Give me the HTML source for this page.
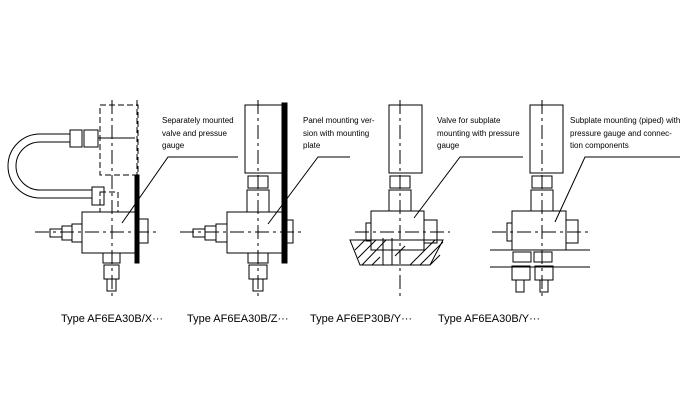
<!DOCTYPE html>
<html><head><meta charset="utf-8"><style>body{margin:0;background:#fff}svg{display:block}</style></head><body>
<svg width="700" height="400" viewBox="0 0 700 400" xmlns="http://www.w3.org/2000/svg" font-family="Liberation Sans, sans-serif">
<g fill="none" stroke="#000" stroke-width="1">
<!-- Drawing 1 -->
<rect x="100" y="105" width="38" height="70" stroke-dasharray="6,3"/>
<line x1="137" y1="100" x2="137" y2="175" stroke-dasharray="6,3"/>
<rect x="135" y="175" width="4" height="88" fill="#000"/>
<rect x="82" y="212" width="53" height="41" fill="#fff"/>
<rect x="136" y="219" width="12" height="24"/>
<line x1="35" y1="232" x2="156" y2="232" stroke-dasharray="14,4,3,4"/>
<line x1="112" y1="100" x2="112" y2="300" stroke-dasharray="14,4,3,4"/>
<rect x="72" y="224" width="10" height="18"/><rect x="62" y="226" width="10" height="14"/><rect x="50" y="229" width="12" height="8"/>
<rect x="103" y="253" width="17" height="10"/><rect x="104" y="265" width="15" height="14"/><rect x="107" y="279" width="9" height="12"/>
<rect x="100" y="192" width="18" height="20" stroke-dasharray="6,3"/>
<path d="M70 134 H40 A22 22 0 0 0 40 198 H92 M70 142 H40 A14 14 0 0 0 40 190 H92"/>
<rect x="70" y="130" width="12" height="17"/><rect x="84" y="130" width="14" height="17"/>
<line x1="98" y1="138" x2="135" y2="138"/>
<rect x="92" y="187" width="12" height="18"/>
<path d="M122 223 L168 157 H238"/>
<!-- Drawing 2 -->
<rect x="245" y="105" width="37" height="68"/>
<rect x="282" y="103" width="5" height="160" fill="#000"/>
<rect x="248" y="176" width="20" height="12"/><rect x="247" y="190" width="22" height="22"/>
<rect x="227" y="212" width="55" height="41" fill="#fff"/>
<rect x="282" y="220" width="11" height="23"/>
<line x1="180" y1="232" x2="305" y2="232" stroke-dasharray="14,4,3,4"/>
<line x1="258" y1="100" x2="258" y2="300" stroke-dasharray="14,4,3,4"/>
<rect x="216" y="224" width="11" height="18"/><rect x="205" y="226" width="11" height="14"/><rect x="193" y="229" width="12" height="8"/>
<rect x="248" y="253" width="20" height="10"/><rect x="249" y="265" width="18" height="14"/><rect x="253" y="279" width="10" height="12"/>
<path d="M268 224 L318 157 H350"/>
<!-- Drawing 3 -->
<rect x="389" y="105" width="33" height="68"/>
<rect x="390" y="176" width="20" height="12"/><rect x="389" y="190" width="22" height="22"/>
<rect x="371" y="211" width="53" height="39" fill="#fff"/>
<rect x="424" y="220" width="13" height="23"/><rect x="366" y="223" width="5" height="18"/>
<line x1="355" y1="232" x2="450" y2="232" stroke-dasharray="14,4,3,4"/>
<line x1="400" y1="100" x2="400" y2="300" stroke-dasharray="14,4,3,4"/>
<path d="M350 240 H443 L430 265 H360 Z"/>
<path d="M355 250 L365 240 M358 258 L376 240 M362 265 L386 240 M372 265 L380 257 M410 265 L435 240 M420 265 L443 242 M430 265 L440 255 M395 256 L405 246" />
<line x1="383" y1="238" x2="383" y2="265"/><line x1="392" y1="238" x2="392" y2="265"/>
<path d="M414 218 L460 157 H523"/>
<!-- Drawing 4 -->
<rect x="530" y="105" width="33" height="68"/>
<rect x="532" y="176" width="20" height="12"/><rect x="531" y="190" width="22" height="22"/>
<rect x="512" y="211" width="54" height="39" fill="#fff"/>
<rect x="566" y="220" width="12" height="23"/><rect x="507" y="223" width="5" height="18"/>
<line x1="492" y1="232" x2="590" y2="232" stroke-dasharray="14,4,3,4"/>
<line x1="542" y1="100" x2="542" y2="300" stroke-dasharray="14,4,3,4"/>
<line x1="490" y1="250" x2="590" y2="250"/><line x1="490" y1="267" x2="590" y2="267"/>
<rect x="513" y="252" width="18" height="10"/><rect x="534" y="252" width="18" height="10"/>
<rect x="512" y="266" width="18" height="14"/><rect x="535" y="266" width="18" height="14"/>
<rect x="516" y="280" width="8" height="12"/><rect x="540" y="280" width="8" height="12"/>
<path d="M555 222 L585 157 H680"/>
</g>
<g font-size="8" fill="#000">
<text x="162" y="123">Separately mounted</text><text x="162" y="136">valve and pressue</text><text x="162" y="148">gauge</text>
<text x="303" y="123">Panel mounting ver-</text><text x="303" y="136">sion with mounting</text><text x="303" y="148">plate</text>
<text x="437" y="123">Valve for subplate</text><text x="437" y="136">mounting with pressure</text><text x="437" y="148">gauge</text>
<text x="570" y="123">Subplate mounting (piped) with</text><text x="570" y="136">pressure gauge and connec-</text><text x="570" y="148">tion components</text>
</g>
<g font-size="11" fill="#000">
<text x="61" y="322">Type AF6EA30B/X···</text>
<text x="187" y="322">Type AF6EA30B/Z···</text>
<text x="310" y="322">Type AF6EP30B/Y···</text>
<text x="438" y="322">Type AF6EA30B/Y···</text>
</g>
</svg>
</body></html>
